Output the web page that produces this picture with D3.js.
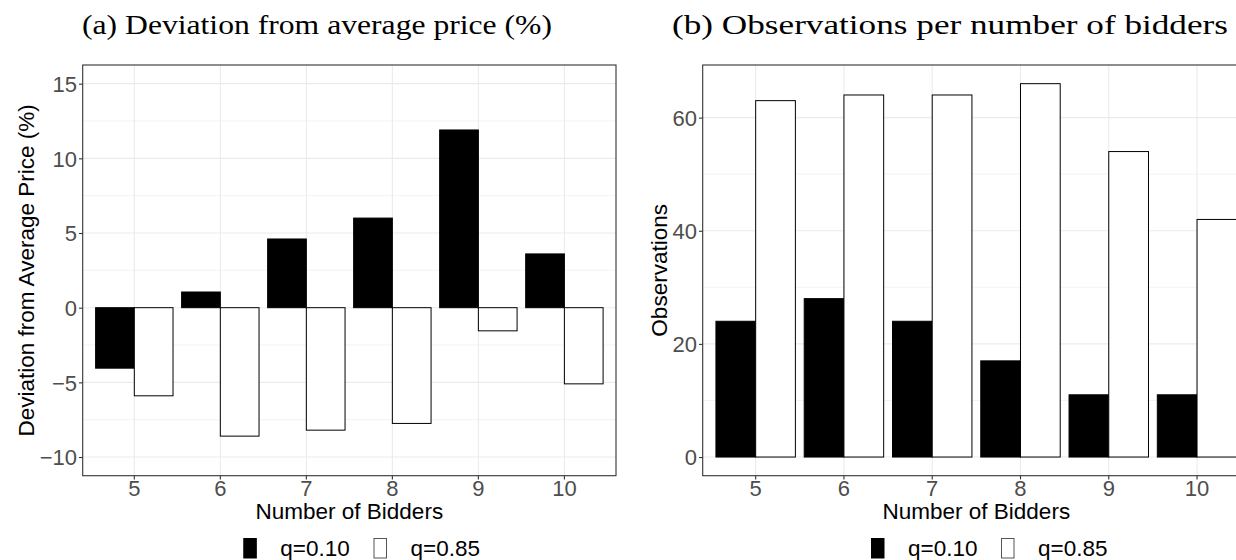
<!DOCTYPE html>
<html>
<head>
<meta charset="utf-8">
<script src="https://cdn.jsdelivr.net/npm/d3@7"></script>
<style>
  html, body { margin: 0; padding: 0; background: #fff; }
  svg { display: block; }
</style>
</head>
<body>
<svg id="chart" width="1236" height="560"></svg>
<script>
// ---------- data ----------
const bidders = ["5", "6", "7", "8", "9", "10"];
const seriesNames = ["q=0.10", "q=0.85"];
const devLow  = [-4.05, 1.05, 4.6, 6.0, 11.9, 3.6];
const devHigh = [-5.9, -8.6, -8.2, -7.75, -1.55, -5.1];
const obsLow  = [24, 28, 24, 17, 11, 11];
const obsHigh = [63, 64, 64, 66, 54, 42];
const devTicks = [-10, -5, 0, 5, 10, 15];
const devMinor = [-7.5, -2.5, 2.5, 7.5, 12.5];
const obsTicks = [0, 20, 40, 60];
const obsMinor = [10, 30, 50];
const titleA = "(a) Deviation from average price (%)";
const titleB = "(b) Observations per number of bidders";

const svg = d3.select("#chart");
const SANS = "'Liberation Sans', Arial, Helvetica, sans-serif";
const SERIF = "'Liberation Serif', 'DejaVu Serif', serif";
const fills = ["#000000", "#ffffff"];

function panel(cfg) {
  const g = svg.append("g");
  const x = d3.scaleBand().domain(bidders).range([cfg.left, cfg.right])
    .paddingInner(0.1).paddingOuter(0.15);
  const xs = d3.scaleBand().domain(seriesNames).range([0, x.bandwidth()]).padding(0);
  const y = d3.scaleLinear().domain(cfg.yDomain).range([cfg.bottom, cfg.top]);

  // background
  g.append("rect").attr("x", cfg.left).attr("y", cfg.top)
    .attr("width", cfg.right - cfg.left).attr("height", cfg.bottom - cfg.top)
    .attr("fill", "#fff");

  // minor grid
  g.selectAll(".ymin").data(cfg.minor).join("line")
    .attr("x1", cfg.left).attr("x2", cfg.right)
    .attr("y1", d => y(d)).attr("y2", d => y(d))
    .attr("stroke", "#ebebeb").attr("stroke-width", 0.6);
  // major grid
  g.selectAll(".ymaj").data(cfg.ticks).join("line")
    .attr("x1", cfg.left).attr("x2", cfg.right)
    .attr("y1", d => y(d)).attr("y2", d => y(d))
    .attr("stroke", "#ebebeb").attr("stroke-width", 1.1);
  g.selectAll(".xmaj").data(bidders).join("line")
    .attr("x1", d => x(d) + x.bandwidth() / 2).attr("x2", d => x(d) + x.bandwidth() / 2)
    .attr("y1", cfg.top).attr("y2", cfg.bottom)
    .attr("stroke", "#ebebeb").attr("stroke-width", 1.1);

  // bars
  const rows = bidders.map((b, i) => ({ b, vals: [cfg.low[i], cfg.high[i]] }));
  const grp = g.selectAll(".grp").data(rows).join("g")
    .attr("transform", d => `translate(${x(d.b)},0)`);
  grp.selectAll("rect").data(d => d.vals.map((v, k) => ({ s: seriesNames[k], v, k })))
    .join("rect")
    .attr("x", d => xs(d.s))
    .attr("width", xs.bandwidth())
    .attr("y", d => Math.min(y(d.v), y(0)))
    .attr("height", d => Math.abs(y(d.v) - y(0)))
    .attr("fill", d => fills[d.k])
    .attr("stroke", "#000").attr("stroke-width", 1);

  // border
  g.append("rect").attr("x", cfg.left).attr("y", cfg.top)
    .attr("width", cfg.right - cfg.left).attr("height", cfg.bottom - cfg.top)
    .attr("fill", "none").attr("stroke", "#333333").attr("stroke-width", 1.1);

  // axes
  const xAxis = d3.axisBottom(x).tickSize(3.7).tickPadding(4);
  const gx = g.append("g").attr("transform", `translate(0,${cfg.bottom})`).call(xAxis);
  const yAxis = d3.axisLeft(y).tickValues(cfg.ticks).tickSize(3.7).tickPadding(2)
    .tickFormat(d => d < 0 ? "\u2212" + Math.abs(d) : String(d));
  const gy = g.append("g").attr("transform", `translate(${cfg.left},0)`).call(yAxis);
  [gx, gy].forEach(a => {
    a.select(".domain").remove();
    a.selectAll(".tick line").attr("stroke", "#333333").attr("stroke-width", 1.1);
    a.selectAll(".tick text").attr("fill", "#4d4d4d")
      .style("font-family", SANS).style("font-size", "22px");
  });
  gx.selectAll(".tick text").attr("dy", null).attr("y", 20);
  gy.selectAll(".tick text").attr("dy", "0.36em");

  // axis titles
  g.append("text").attr("x", (cfg.left + cfg.right) / 2).attr("y", 519)
    .attr("text-anchor", "middle").style("font-family", SANS).style("font-size", "22.5px")
    .attr("fill", "#000").text("Number of Bidders");
  g.append("text")
    .attr("transform", `translate(${cfg.yTitleX},${(cfg.top + cfg.bottom) / 2}) rotate(-90)`)
    .attr("text-anchor", "middle").style("font-family", SANS).style("font-size", "22.5px")
    .attr("fill", "#000").text(cfg.yTitle);

  // title
  g.append("text").attr("x", cfg.titleX0).attr("y", 33.5)
    .attr("textLength", cfg.titleW).attr("lengthAdjust", "spacingAndGlyphs")
    .style("font-family", SERIF).style("font-size", "27.5px").attr("fill", "#000")
    .text(cfg.title);

  // legend
  const lg = g.append("g");
  seriesNames.forEach((s, k) => {
    lg.append("rect").attr("x", cfg.legX[k]).attr("y", 538.5).attr("width", 12.5).attr("height", 19.5)
      .attr("fill", fills[k]).attr("stroke", k ? "#555" : "#000").attr("stroke-width", 1);
    lg.append("text").attr("x", cfg.legX[k] + 36.5).attr("y", 555.5)
      .style("font-family", SANS).style("font-size", "22.5px").attr("fill", "#000").text(s);
  });
}

panel({
  left: 82.7, right: 616, top: 65, bottom: 475.7,
  yDomain: [-11.25, 16.25], ticks: devTicks, minor: devMinor,
  low: devLow, high: devHigh,
  yTitle: "Deviation from Average Price (%)", yTitleX: 34,
  title: titleA, titleX0: 82, titleW: 470,
  legX: [243.8, 374]
});
panel({
  left: 702.7, right: 1250, top: 65, bottom: 475.7,
  yDomain: [-3.3, 69.3], ticks: obsTicks, minor: obsMinor,
  low: obsLow, high: obsHigh,
  yTitle: "Observations", yTitleX: 667,
  title: titleB, titleX0: 672, titleW: 556,
  legX: [871.5, 1001.5]
});
</script>
</body>
</html>
